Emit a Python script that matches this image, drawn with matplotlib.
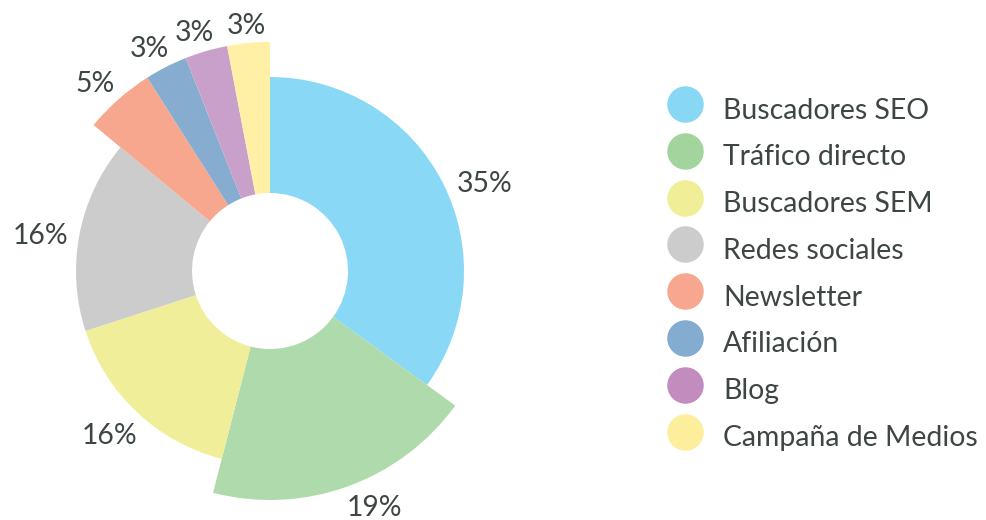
import numpy as np
import matplotlib.pyplot as plt

# Data
labels = ['Buscadores SEO', 'Tráfico directo', 'Buscadores SEM', 'Redes sociales',
          'Newsletter', 'Afiliación', 'Blog', 'Campaña de Medios']
values = [35, 19, 16, 16, 5, 3, 3, 3]
pie_colors = ['#89D8F6', '#AFDAAB', '#F0EE98', '#CCCCCC',
              '#F7A78E', '#86ADD0', '#C9A0C9', '#FFF0A6']
legend_colors = ['#87D7F5', '#A3D49D', '#F0EE97', '#CCCCCC',
                 '#F7A78F', '#84ABD0', '#C28CBE', '#FDEE9C']
popped = [False, True, False, False, True, True, True, True]

# Layout (pixel units)
cx, cy = 270, 520 - 271
r_in = 78
r_base, r_pop = 194, 229
label_gap = 10
label_drop = 4.5  # text box centre sits above the cap-height centre
label_nudge = [4, -4, 1, -1, -1, -1, -1, 0]  # degrees, clockwise
text_color = '#3E4545'
font = 'Lato'
fsize = 20.4

fig = plt.figure(figsize=(9.87, 5.2), dpi=100)
ax = fig.add_axes([0, 0, 1, 1])

wedges, _ = ax.pie(values, colors=pie_colors, startangle=90, counterclock=False,
                   center=(cx, cy), radius=r_base,
                   wedgeprops=dict(width=r_base - r_in, linewidth=0))
ax.set_xlim(0, 987)
ax.set_ylim(0, 520)
ax.set_aspect('equal')
ax.axis('off')

renderer = fig.canvas.get_renderer()

# Pull out some slices and put the percentage labels just outside them
for w, v, p, nd in zip(wedges, values, popped, label_nudge):
    r = r_pop if p else r_base
    w.set_radius(r)
    w.set_width(r - r_in)
    mid = np.deg2rad((w.theta1 + w.theta2) / 2 - nd)
    t = ax.text(0, 0, f'{v}%', ha='center', va='center', fontsize=fsize,
                color=text_color, family=font)
    bb = t.get_window_extent(renderer)
    hw, hh = bb.width / 2, 20 / 2
    ext = hw * abs(np.cos(mid)) + hh * abs(np.sin(mid))
    lr = r + ext + label_gap
    drop = label_drop if np.sin(mid) > 0 else 0
    t.set_position((cx + lr * np.cos(mid), cy + lr * np.sin(mid) - drop))

# Legend
y0, step = 520 - 104, 46.8
for i, (lab, col) in enumerate(zip(labels, legend_colors)):
    y = y0 - i * step
    ax.scatter([685], [y], s=690, color=col, linewidths=0)
    ax.text(723, y - 14.5, lab, ha='left', va='baseline', fontsize=fsize,
            color=text_color, family=font)

fig.savefig('out.png', dpi=100)
